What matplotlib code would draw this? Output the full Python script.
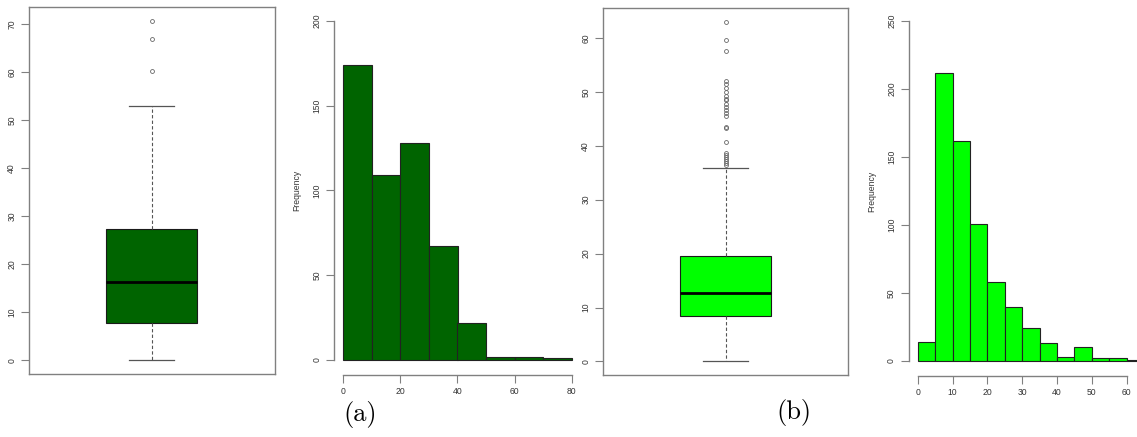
import matplotlib
matplotlib.use("Agg")
import matplotlib.pyplot as plt

# (a) boxplot summary
box_a = dict(whislo=0.0, q1=7.8, med=16.3, q3=27.3, whishi=52.9,
             fliers=[60.2, 66.9, 70.7])
# (b) boxplot summary
box_b = dict(whislo=0.0, q1=8.5, med=12.7, q3=19.5, whishi=35.9,
             fliers=[63.0, 59.6, 57.6, 52.0, 51.4, 50.8, 50.0, 49.3, 48.7,
                     48.4, 47.8, 47.2, 46.6, 46.0, 45.5, 43.4, 43.3, 40.7,
                     38.7, 38.3, 37.9, 37.5, 37.2, 36.8, 36.4])

# histograms
edges_a = [0, 10, 20, 30, 40, 50, 60, 70, 80]
counts_a = [174, 109, 128, 67, 22, 2, 2, 1]
edges_b = [0, 5, 10, 15, 20, 25, 30, 35, 40, 45, 50, 55, 60, 65]
counts_b = [14, 212, 162, 101, 58, 40, 24, 13, 3, 10, 2, 2, 1]

dark = "#006400"
bright = "#00ff00"
axis_col = "#808080"
text_col = "#333333"
fs = 6.2

plt.rcParams['font.family'] = ['Liberation Sans', 'DejaVu Sans']

fig = plt.figure(figsize=(11.37, 4.37), dpi=100)


def rot_yticks(ax):
    for lab in ax.get_yticklabels():
        lab.set_rotation(90)
        lab.set_va('center')
        lab.set_ha('right')


def boxpanel(rect, stats, color, ylim, yticks):
    ax = fig.add_axes(rect)
    s = dict(stats, label='')
    ax.bxp([s], positions=[1], widths=0.4, capwidths=0.2,
           patch_artist=True,
           boxprops=dict(facecolor=color, edgecolor='#1a1a1a', linewidth=0.8),
           medianprops=dict(color='black', linewidth=2),
           whiskerprops=dict(color='#555555', linestyle=(0, (3, 2)), linewidth=0.8),
           capprops=dict(color='#555555', linewidth=0.9),
           flierprops=dict(marker='o', markersize=2.8, markerfacecolor='none',
                           markeredgecolor='#666666', markeredgewidth=0.6))
    ax.set_xlim(0.46, 1.54)
    ax.set_ylim(*ylim)
    ax.set_xticks([])
    ax.set_yticks(yticks)
    for sp in ax.spines.values():
        sp.set_color(axis_col)
        sp.set_linewidth(1.0)
    ax.tick_params(axis='y', direction='out', length=6, width=0.8,
                   color=axis_col, labelsize=fs, labelcolor=text_col, pad=3)
    rot_yticks(ax)
    return ax


def histpanel(rect, edges, counts, color, xlim, ylim, xticks, yticks):
    ax = fig.add_axes(rect)
    widths = [edges[i + 1] - edges[i] for i in range(len(counts))]
    ax.bar(edges[:-1], counts, width=widths, align='edge', color=color,
           edgecolor='#222222', linewidth=0.8)
    ax.set_xlim(*xlim)
    ax.set_ylim(*ylim)
    ax.set_xticks(xticks)
    ax.set_yticks(yticks)
    ax.spines['top'].set_visible(False)
    ax.spines['right'].set_visible(False)
    ax.spines['left'].set_bounds(yticks[0], yticks[-1])
    ax.spines['bottom'].set_bounds(xticks[0], xticks[-1])
    ax.spines['bottom'].set_position(('outward', 1))
    for sp in ('left', 'bottom'):
        ax.spines[sp].set_color(axis_col)
        ax.spines[sp].set_linewidth(1.0)
    ax.tick_params(direction='out', length=6, width=0.8, color=axis_col,
                   labelsize=fs, labelcolor=text_col, pad=3)
    rot_yticks(ax)
    ax.set_ylabel('Frequency', fontsize=fs, color=text_col, labelpad=8)
    return ax


W, H = 1137.0, 437.0


def rect(x0, x1, ytop, ybot):
    return [x0 / W, (H - ybot) / H, (x1 - x0) / W, (ybot - ytop) / H]


boxpanel(rect(28.7, 274.7, 7.3, 374), box_a, dark, (-2.83, 73.5),
         range(0, 71, 10))
histpanel(rect(334.2, 580.8, 7.1, 373.6), edges_a, counts_a, dark,
          (-3.2, 83.2), (-8, 208), range(0, 81, 20), range(0, 201, 50))
boxpanel(rect(602.7, 848.3, 8.3, 375), box_b, bright, (-2.52, 65.5),
         range(0, 61, 10))
histpanel(rect(908.6, 1153.2, 7.4, 374.6), edges_b, counts_b, bright,
          (-2.6, 67.6), (-10, 260), range(0, 61, 10), range(0, 251, 50))

fig.text(360 / W, 1 - 414 / H, '(a)', fontfamily='cmr10', fontsize=19,
         ha='center', va='center')
fig.text(794 / W, 1 - 412 / H, '(b)', fontfamily='cmr10', fontsize=19,
         ha='center', va='center')

fig.savefig('out.png', dpi=100)
